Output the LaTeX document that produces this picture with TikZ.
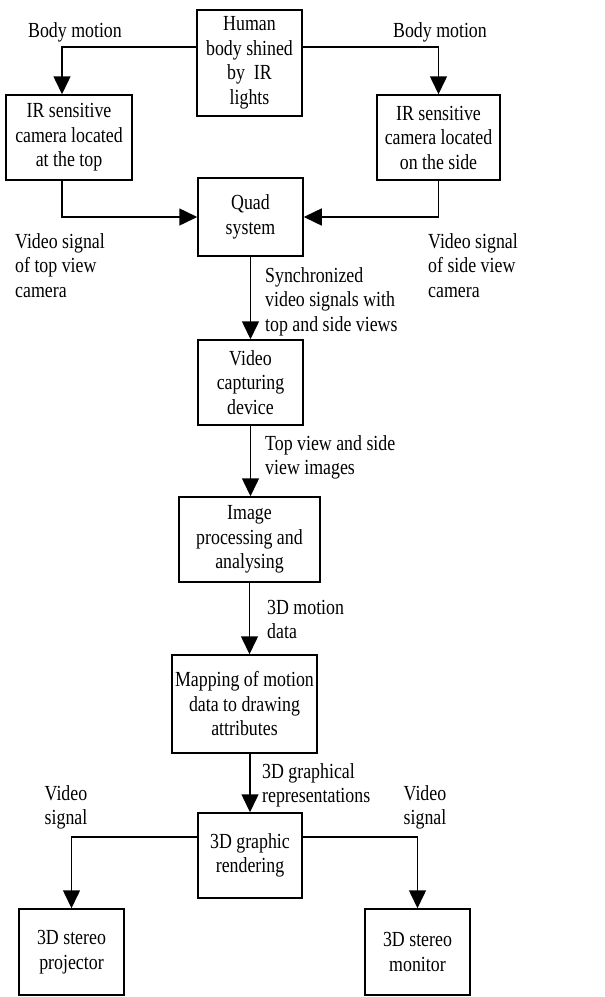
\documentclass[tikz,border=0pt]{standalone}
\usepackage{fontspec}
\setmainfont{Liberation Serif}[FakeStretch=0.83]
\usetikzlibrary{arrows.meta}

\begin{document}
\begin{tikzpicture}[x=1pt, y=-1pt,
    font=\fontsize{21.5}{24.5}\selectfont,
    block/.style={draw, line width=1.5pt, align=center, inner sep=0pt},
    lbl/.style={align=left, inner sep=0pt, anchor=west},
    flow/.style={line width=1.5pt, -{Triangle[length=18pt,width=17pt]}}]
            \useasboundingbox (0,0) rectangle (605,997);
            % boxes
            \node[block, minimum width=105, minimum height=106] (human) at (249.5,63) {Human\\body shined\\by~ IR\\lights};
            \node[block, minimum width=126, minimum height=85] (camtop) at (69,137.5) {IR sensitive\\camera located\\at the top};
            \node[block, minimum width=123, minimum height=85] (camside) at (438.5,137.5) {IR sensitive\\camera located\\on the side};
            \node[block, minimum width=105, minimum height=78] (quad) at (250.5,217) {Quad\\system};
            \node[block, minimum width=105, minimum height=85] (capture) at (250.5,382.5) {Video\\capturing\\device};
            \node[block, minimum width=141, minimum height=85] (imgproc) at (249.5,539.5) {Image\\processing and\\analysing};
            \node[block, minimum width=145, minimum height=98] (mapping) at (244.5,704) {Mapping of motion\\data to drawing\\attributes};
            \node[block, minimum width=104, minimum height=85] (render) at (250,855.5) {3D graphic\\rendering};
            \node[block, minimum width=105, minimum height=86] (projector) at (71.5,952) {3D stereo\\projector};
            \node[block, minimum width=105, minimum height=86] (monitor) at (417.5,952) {3D stereo\\monitor};
            % labels
            \node[inner sep=0pt] (bmleft) at (75,32) {Body motion};
            \node[inner sep=0pt] (bmright) at (440,32) {Body motion};
            \node[lbl] (vtop) at (15,265.5) {Video signal\\of top view\\camera};
            \node[lbl] (vside) at (428,265.5) {Video signal\\of side view\\camera};
            \node[lbl] (sync) at (265,301.5) {Synchronized\\video signals with\\top and side views};
            \node[lbl] (views) at (265,457.5) {Top view and side\\view images};
            \node[lbl] (motion) at (267,619.5) {3D motion\\data};
            \node[lbl] (graph) at (262,785.5) {3D graphical\\representations};
            \node[lbl, anchor=center] (vsleft) at (66,807.5) {Video\\signal};
            \node[lbl, anchor=center] (vsright) at (425,807.5) {Video\\signal};
            % connectors
            \draw[flow] ([yshift=16]human.west) -| ([xshift=-7]camtop.north);
            \draw[flow] ([yshift=16]human.east) -| (camside.north);
            \draw[flow] ([xshift=-7]camtop.south) |- (quad.west);
            \draw[flow] (camside.south) |- (quad.east);
            \draw[flow] (quad.south) -- (quad.south |- capture.north);
            \draw[flow] (capture.south) -- (capture.south |- imgproc.north);
            \draw[flow] (imgproc.south) -- (imgproc.south |- mapping.north);
            \draw[flow] (render.north |- mapping.south) -- (render.north);
            \draw[flow] ([yshift=18.5]render.west) -| (projector.north);
            \draw[flow] ([yshift=18.5]render.east) -| (monitor.north);
        \end{tikzpicture}
\end{document}
